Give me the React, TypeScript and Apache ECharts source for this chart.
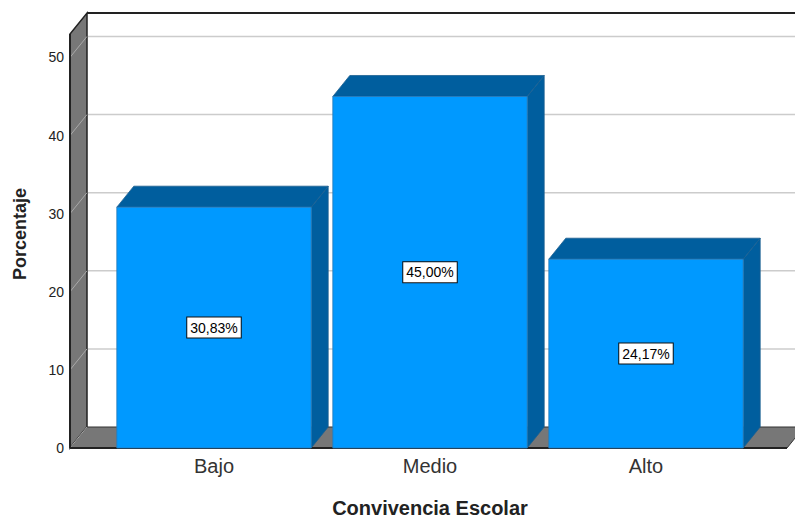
import React, { useEffect, useRef } from 'react';
import * as echarts from 'echarts';

const categories = ['Bajo', 'Medio', 'Alto'];
const percentages = [30.83, 45.0, 24.17];
const yTickValues = [0, 10, 20, 30, 40, 50];
const gridValues = [10, 20, 30, 40, 50];
const yMax = 53;

const FONT = '"Liberation Sans", Arial, Helvetica, sans-serif';
const DX = 17;
const DY = -21;

export default function App() {
  const ref = useRef<HTMLDivElement>(null);

  useEffect(() => {
    const chart = echarts.init(ref.current as HTMLDivElement, null, { renderer: 'svg' });

    const renderFrame = (params: any, api: any) => {
      const cs = params.coordSys;
      const x0 = cs.x - 36;
      const x1 = cs.x + cs.width + 33;
      const yb = cs.y + cs.height;
      const yt = cs.y;
      const far = x1 + DX + 30;
      const children: any[] = [];
      children.push({
        type: 'polygon',
        shape: { points: [[x0 + DX, yt + DY], [far, yt + DY], [far, yb + DY], [x0 + DX, yb + DY]] },
        style: { fill: '#ffffff', stroke: 'none' },
      });
      gridValues.forEach((v) => {
        const y = api.coord([0, v])[1];
        children.push({
          type: 'line',
          shape: { x1: x0 + DX, y1: y + DY, x2: far, y2: y + DY },
          style: { stroke: '#cccccc', lineWidth: 1.5 },
        });
      });
      children.push({
        type: 'line',
        shape: { x1: x0 + DX, y1: yt + DY, x2: far, y2: yt + DY },
        style: { stroke: '#222222', lineWidth: 2 },
      });
      children.push({
        type: 'polygon',
        shape: { points: [[x0, yb], [x0, yt], [x0 + DX, yt + DY], [x0 + DX, yb + DY]] },
        style: { fill: '#777777', stroke: '#222222', lineWidth: 1.5 },
      });
      gridValues.forEach((v) => {
        const y = api.coord([0, v])[1];
        children.push({
          type: 'line',
          shape: { x1: x0, y1: y, x2: x0 + DX, y2: y + DY },
          style: { stroke: '#a9a9a9', lineWidth: 1 },
        });
      });
      children.push({
        type: 'polygon',
        shape: { points: [[x0, yb], [x0 + DX, yb + DY], [x1 + DX, yb + DY], [x1, yb]] },
        style: { fill: '#777777', stroke: '#333333', lineWidth: 1 },
      });
      children.push({
        type: 'line',
        shape: { x1: x0, y1: yb, x2: x0 + DX, y2: yb + DY },
        style: { stroke: '#a9a9a9', lineWidth: 1 },
      });
      children.push({
        type: 'line',
        shape: { x1: x0, y1: yb, x2: x1, y2: yb },
        style: { stroke: '#222222', lineWidth: 2 },
      });
      children.push({
        type: 'line',
        shape: { x1: x0, y1: yb, x2: x0, y2: yt },
        style: { stroke: '#222222', lineWidth: 2 },
      });
      return { type: 'group', children };
    };

    const renderBar = (params: any, api: any) => {
      const idx = api.value(0);
      const v = api.value(1);
      const top = api.coord([idx, v]);
      const base = api.coord([idx, 0]);
      const w = api.size([1, 0])[0] * 0.9;
      const xl = top[0] - w / 2;
      const xr = top[0] + w / 2;
      const yt = top[1];
      const yb = base[1];
      const text = `${percentages[params.dataIndex].toFixed(2).replace('.', ',')}%`;
      return {
        type: 'group',
        children: [
          {
            type: 'polygon',
            shape: { points: [[xr, yt], [xr + DX, yt + DY], [xr + DX, yb + DY], [xr, yb]] },
            style: { fill: '#005E9E', stroke: '#1d5f90', lineWidth: 0.8 },
          },
          {
            type: 'polygon',
            shape: { points: [[xl, yt], [xl + DX, yt + DY], [xr + DX, yt + DY], [xr, yt]] },
            style: { fill: '#005E9E', stroke: '#1d5f90', lineWidth: 0.8 },
          },
          {
            type: 'rect',
            shape: { x: xl, y: yt, width: w, height: yb - yt },
            style: { fill: '#0099FF', stroke: '#2a7ab8', lineWidth: 0.8 },
            textContent: {
              style: {
                text,
                fontSize: 14,
                fontFamily: FONT,
                fill: '#000000',
                backgroundColor: '#ffffff',
                borderColor: '#111111',
                borderWidth: 1,
                padding: [3, 3, 3, 3],
              },
            },
            textConfig: { position: 'inside' },
          },
        ],
      };
    };

    const option: any = {
      animation: false,
      grid: { left: 106, right: 41, top: 34, bottom: 70 },
      xAxis: {
        type: 'category',
        data: categories,
        axisLine: { show: false },
        axisTick: { show: false },
        axisLabel: { fontSize: 20, color: '#333333', margin: 8, fontFamily: FONT },
        name: 'Convivencia Escolar',
        nameLocation: 'middle',
        nameGap: 50,
        nameTextStyle: { fontSize: 20, fontWeight: 'bold', color: '#222222', fontFamily: FONT },
      },
      yAxis: {
        type: 'value',
        min: 0,
        max: yMax,
        interval: 10,
        offset: 36,
        axisLine: { show: false },
        axisTick: { show: false },
        splitLine: { show: false },
        axisLabel: {
          fontSize: 14,
          color: '#222222',
          margin: 6,
          fontFamily: FONT,
          showMaxLabel: false,
          formatter: (val: number) => (yTickValues.includes(val) ? String(val) : ''),
        },
        name: 'Porcentaje',
        nameLocation: 'middle',
        nameGap: 41,
        nameRotate: 90,
        nameTextStyle: {
          fontSize: 18,
          fontWeight: 'bold',
          color: '#222222',
          fontFamily: FONT,
          padding: [0, 0, 0, 14],
        },
      },
      series: [
        {
          type: 'custom',
          clip: false,
          z: 1,
          silent: true,
          data: [[0, 0]],
          renderItem: renderFrame,
        },
        {
          type: 'custom',
          clip: false,
          z: 2,
          data: percentages.map((v, i) => [i, v]),
          encode: { x: 0, y: 1 },
          renderItem: renderBar,
        },
      ],
    };

    chart.setOption(option);
    return () => {
      chart.dispose();
    };
  }, []);

  return (
    <div
      ref={ref}
      style={{ position: 'fixed', left: 0, top: 0, width: 795, height: 523, background: '#ffffff' }}
    />
  );
}
